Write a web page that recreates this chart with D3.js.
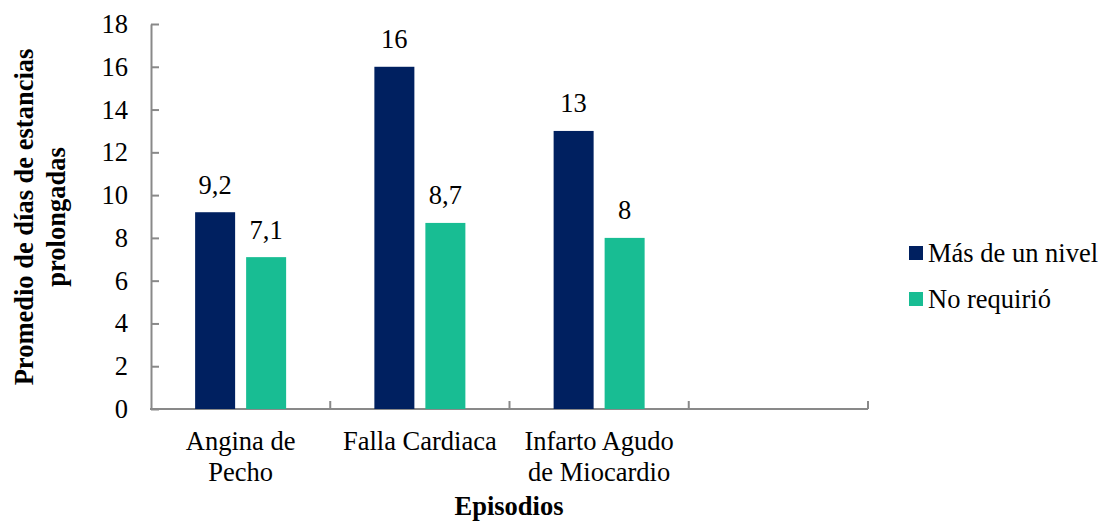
<!DOCTYPE html>
<html>
<head>
<meta charset="utf-8">
<script src="https://cdn.jsdelivr.net/npm/d3@7"></script>
<style>
  body { margin: 0; background: #fff; }
</style>
</head>
<body>
<div id="chart"></div>
<script>
// data
const categories = [["Angina de", "Pecho"], ["Falla Cardiaca"], ["Infarto Agudo", "de Miocardio"], []];
const seriesNames = ["Más de un nivel", "No requirió"];
const masDeUnNivel = [9.2, 16, 13];
const noRequirio = [7.1, 8.7, 8];
const valueLabels = [["9,2", "16", "13"], ["7,1", "8,7", "8"]];
const yTicks = [0, 2, 4, 6, 8, 10, 12, 14, 16, 18];
const colors = ["#002060", "#18BD93"];

const w = 1102, h = 521;
const plotL = 151, plotR = 868, plotT = 24, plotB = 409;
const font = "'Liberation Serif', 'Times New Roman', serif";
const fs = "26.5px";

let svg = d3.select("#chart").append("svg").attr("width", w).attr("height", h);

let x = d3.scaleBand().domain(d3.range(categories.length)).range([plotL, plotR]);
let x1 = d3.scaleBand().domain(d3.range(seriesNames.length)).range([0, x.bandwidth()])
  .paddingInner(0.2157).paddingOuter(0.865);
let y = d3.scaleLinear().domain([0, 18]).range([plotB, plotT]);

const axisColor = "#898989";

// y axis
let yAxis = svg.append("g")
  .attr("transform", `translate(${plotL},0)`)
  .call(d3.axisLeft(y).tickValues(yTicks).tickSize(-8).tickPadding(23).tickSizeOuter(0));
yAxis.select(".domain").attr("stroke", axisColor).attr("stroke-width", 2);
yAxis.selectAll(".tick line").attr("stroke", axisColor).attr("stroke-width", 2);
yAxis.selectAll(".tick text")
  .style("font-size", fs).style("font-family", font).attr("fill", "#000");

// x axis (ticks on category edges, pointing up)
let edges = categories.map((c, i) => x(i)).concat([plotR]);
svg.append("line")
  .attr("x1", plotL - 1).attr("x2", plotR).attr("y1", plotB).attr("y2", plotB)
  .attr("stroke", axisColor).attr("stroke-width", 2);
svg.selectAll(".xtick").data(edges.slice(1)).enter().append("line")
  .attr("class", "xtick")
  .attr("x1", d => d).attr("x2", d => d)
  .attr("y1", plotB).attr("y2", plotB - 8)
  .attr("stroke", axisColor).attr("stroke-width", 2);

// bars
const series = [masDeUnNivel, noRequirio];
series.forEach((vals, s) => {
  let g = svg.append("g");
  g.selectAll("rect").data(vals).enter().append("rect")
    .attr("x", (d, i) => x(i) + x1(s))
    .attr("y", d => y(d))
    .attr("width", x1.bandwidth())
    .attr("height", d => y(0) - y(d))
    .attr("fill", colors[s]);
  g.selectAll("text").data(vals).enter().append("text")
    .attr("x", (d, i) => x(i) + x1(s) + x1.bandwidth() / 2)
    .attr("y", d => y(d) - 18.5)
    .attr("text-anchor", "middle")
    .style("font-size", fs).style("font-family", font)
    .text((d, i) => valueLabels[s][i]);
});

// category labels
categories.forEach((lines, i) => {
  lines.forEach((t, j) => {
    svg.append("text")
      .attr("x", x(i) + x.bandwidth() / 2)
      .attr("y", 450 + j * 31)
      .attr("text-anchor", "middle")
      .style("font-size", fs).style("font-family", font)
      .text(t);
  });
});

// axis titles
svg.append("text")
  .attr("x", 509).attr("y", 515)
  .attr("text-anchor", "middle")
  .style("font-size", fs).style("font-family", font).style("font-weight", "bold")
  .text("Episodios");

let yt = svg.append("text")
  .attr("transform", `translate(33,217) rotate(-90)`)
  .attr("text-anchor", "middle")
  .style("font-size", fs).style("font-family", font).style("font-weight", "bold");
yt.append("tspan").attr("x", 0).attr("dy", 0).text("Promedio de días de estancias");
yt.append("tspan").attr("x", 0).attr("dy", 32).text("prolongadas");

// legend
let legend = svg.selectAll(".legend").data(seriesNames).enter().append("g")
  .attr("class", "legend")
  .attr("transform", (d, i) => `translate(909,${246 + i * 46})`);
legend.append("rect").attr("width", 14).attr("height", 14).attr("fill", (d, i) => colors[i]);
legend.append("text").attr("x", 19).attr("y", 16)
  .style("font-size", fs).style("font-family", font).text(d => d);
</script>
</body>
</html>
